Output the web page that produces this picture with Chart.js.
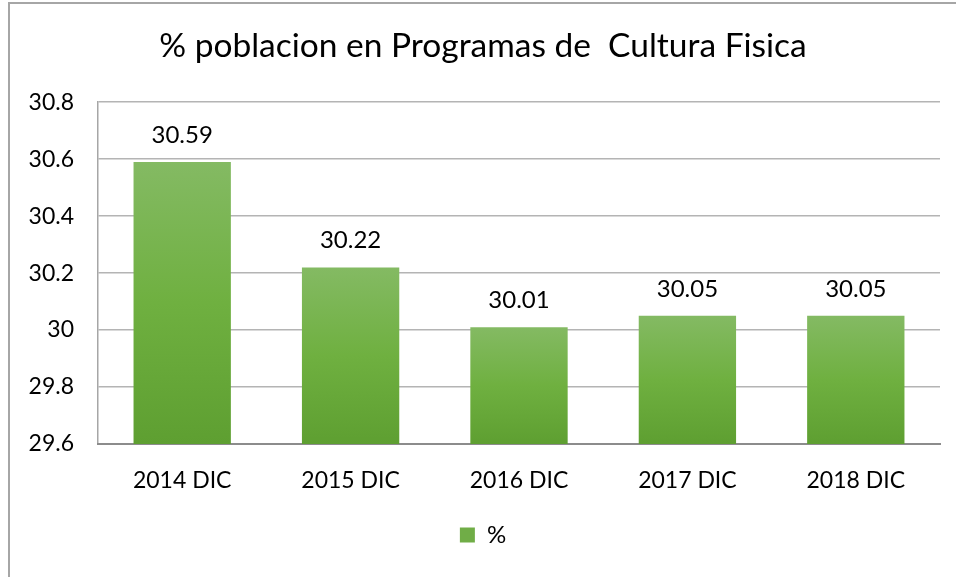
<!DOCTYPE html>
<html>
<head>
<meta charset="utf-8">
<script src="https://cdn.jsdelivr.net/npm/chart.js@4/dist/chart.umd.min.js"></script>
<style>
  body { margin: 0; background: #fff; }
  #wrap {
    position: absolute; left: 8px; top: 2px;
    width: 948px; height: 575px;
    border-left: 2px solid #a6a6a6; border-top: 2px solid #a6a6a6;
  }
  #chart { display: block; }
</style>
</head>
<body>
<div id="wrap"><canvas id="chart" width="946" height="573"></canvas></div>
<script>
const titleText = "% poblacion en Programas de  Cultura Fisica";
const categories = ["2014 DIC", "2015 DIC", "2016 DIC", "2017 DIC", "2018 DIC"];
const seriesName = "%";
const values = [30.59, 30.22, 30.01, 30.05, 30.05];
const yTicks = [29.6, 29.8, 30, 30.2, 30.4, 30.6, 30.8];

const fontFamily = "Lato, 'Open Sans', sans-serif";

function barGradient(ctx) {
    const chart = ctx.chart;
    const area = chart.chartArea;
    if (!area || ctx.type !== "data") return "#70ad47";
    const top = chart.scales.y.getPixelForValue(ctx.raw);
    const g = chart.ctx.createLinearGradient(0, top, 0, area.bottom);
    g.addColorStop(0, "#84ba63");
    g.addColorStop(0.5, "#6fb040");
    g.addColorStop(1, "#5e9f31");
    return g;
}

const valueLabels = {
    id: "valueLabels",
    afterDatasetsDraw(chart) {
        const ctx = chart.ctx;
        const meta = chart.getDatasetMeta(0);
        ctx.save();
        ctx.font = "24px " + fontFamily;
        ctx.fillStyle = "#000";
        ctx.textAlign = "center";
        ctx.textBaseline = "middle";
        meta.data.forEach((bar, i) => {
            ctx.fillText(values[i].toFixed(2), bar.x, bar.y - 27);
        });
        ctx.restore();
    }
};

new Chart(document.getElementById("chart").getContext("2d"), {
    type: "bar",
    data: {
        labels: categories,
        datasets: [
            {
                label: seriesName,
                data: values,
                backgroundColor: barGradient,
                borderWidth: 0,
                barPercentage: 0.578,
                categoryPercentage: 1,
            },
        ],
    },
    options: {
        responsive: false,
        animation: false,
        layout: { padding: { left: 16, right: 16, top: 0, bottom: 20 } },
        plugins: {
            title: {
                display: true,
                text: titleText,
                color: "#000",
                font: { family: fontFamily, size: 33.5, weight: "normal" },
                padding: { top: 22, bottom: 36 },
            },
            legend: {
                position: "bottom",
                labels: {
                    color: "#000",
                    font: { family: fontFamily, size: 24 },
                    boxWidth: 15,
                    boxHeight: 15,
                    padding: 8,
                    generateLabels() {
                        return [{
                            text: seriesName,
                            fillStyle: "#70ad47",
                            strokeStyle: "#70ad47",
                            lineWidth: 0,
                            datasetIndex: 0,
                        }];
                    },
                },
            },
            tooltip: { enabled: false },
        },
        scales: {
            y: {
                min: 29.6,
                max: 30.8,
                afterBuildTicks(axis) {
                    axis.ticks = yTicks.map((v) => ({ value: v }));
                },
                afterFit(axis) { axis.width = 72; },
                ticks: {
                    color: "#000",
                    font: { family: fontFamily, size: 23 },
                    padding: 24,
                    callback: (v) => String(v),
                },
                grid: { color: "#b4b4b4", lineWidth: 1.5, drawTicks: false },
                border: { display: true, color: "#a6a6a6", width: 1.5 },
            },
            x: {
                afterFit(axis) { axis.height = 71; },
                ticks: {
                    color: "#000",
                    font: { family: fontFamily, size: 23 },
                    padding: 23,
                },
                grid: { display: false, drawTicks: false },
                border: { display: true, color: "#8c8c8c", width: 2 },
            },
        },
    },
    plugins: [valueLabels],
});
</script>
</body>
</html>
